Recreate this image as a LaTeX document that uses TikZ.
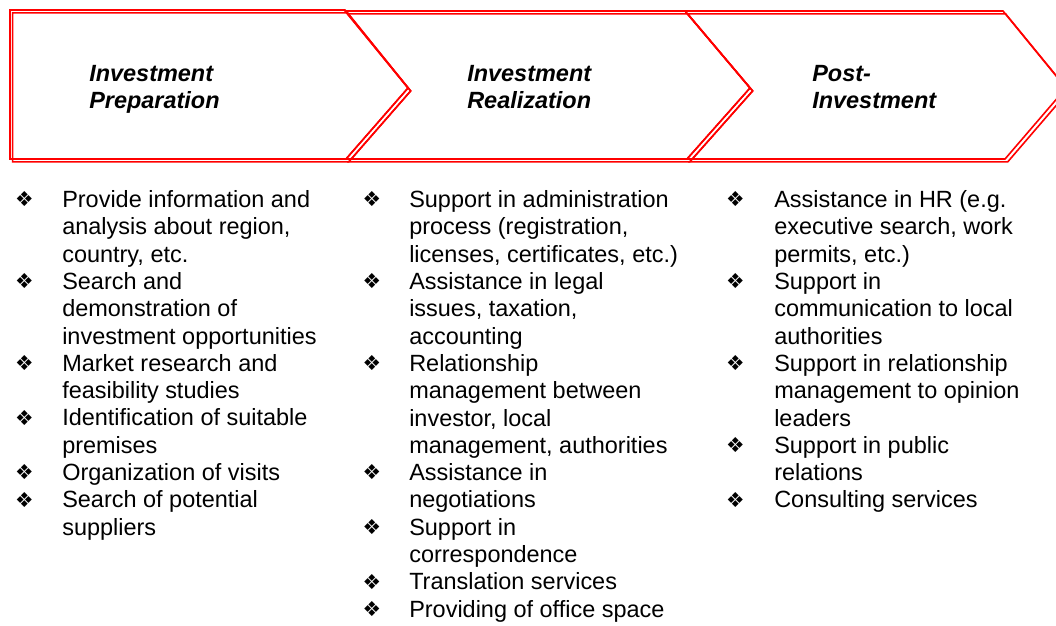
\documentclass[tikz,border=0pt]{standalone}
\usepackage{fontspec}
\setmainfont{Liberation Sans}
\newfontfamily\dejavu{DejaVu Sans}
\begin{document}
\begin{tikzpicture}[x=0.75pt,y=-0.75pt,
  chev/.style={draw=red, line width=1.2pt, line join=miter},
  chevshadow/.style={chev, xshift=2pt, yshift=-2.2pt},
  itemtext/.style={anchor=north west, inner sep=0pt, yshift=14pt, align=left,
    font=\fontsize{17.6}{20.5}\selectfont},
  headtext/.style={itemtext, font=\fontsize{17.6}{20.5}\selectfont\bfseries\itshape},
  bul/.style={inner sep=0pt, anchor=center, yshift=6pt, font=\dejavu\fontsize{15.5}{15.5}\selectfont}
]
\useasboundingbox (0,0) rectangle (1056,625);
\clip (0,0) rectangle (1056,625);
% chevrons: shadow copies first
\draw[chevshadow] (10,10) -- (345,10) -- (408,88) -- (346,159) -- (10,159) -- cycle;
\draw[chevshadow] (345,11) -- (685,11) -- (750,88) -- (687,159) -- (346,159) -- (408,88) -- cycle;
\draw[chevshadow] (685,11) -- (1003,11) -- (1066,88) -- (1005,159) -- (687,159) -- (750,88) -- cycle;
\draw[chev] (10,10) -- (345,10) -- (408,88) -- (346,159) -- (10,159) -- cycle;
\draw[chev] (345,11) -- (685,11) -- (750,88) -- (687,159) -- (346,159) -- (408,88) -- cycle;
\draw[chev] (685,11) -- (1003,11) -- (1066,88) -- (1005,159) -- (687,159) -- (750,88) -- cycle;
% headings
\node[headtext] (h1) at (89,81) {\rule{0pt}{14pt}Investment\\Preparation};
\node[headtext] (h2) at (467,81) {\rule{0pt}{14pt}Investment\\Realization};
\node[headtext] (h3) at (812,81) {\rule{0pt}{14pt}Post-\\Investment};
% column 1
\foreach \n/\k/\t in {
  a1/0/{Provide information and\\analysis about region,\\country, etc.},
  a2/3/{Search and\\demonstration of\\investment opportunities},
  a3/6/{Market research and\\feasibility studies},
  a4/8/{Identification of suitable\\premises},
  a5/10/{Organization of visits},
  a6/11/{Search of potential\\suppliers}}{
  \node[itemtext] (\n) at (62,207.3+27.3*\k) {\rule{0pt}{14pt}\t};
  \node[bul] (\n b) at (24.5,207.3+27.3*\k) {❖};
}
% column 2
\foreach \n/\k/\t in {
  b1/0/{Support in administration\\process (registration,\\licenses, certificates, etc.)},
  b2/3/{Assistance in legal\\issues, taxation,\\accounting},
  b3/6/{Relationship\\management between\\investor, local\\management, authorities},
  b4/10/{Assistance in\\negotiations},
  b5/12/{Support in\\correspondence},
  b6/14/{Translation services},
  b7/15/{Providing of office space}}{
  \node[itemtext] (\n) at (409,207.3+27.3*\k) {\rule{0pt}{14pt}\t};
  \node[bul] (\n b) at (372,207.3+27.3*\k) {❖};
}
% column 3
\foreach \n/\k/\t in {
  c1/0/{Assistance in HR (e.g.\\executive search, work\\permits, etc.)},
  c2/3/{Support in\\communication to local\\authorities},
  c3/6/{Support in relationship\\management to opinion\\leaders},
  c4/9/{Support in public\\relations},
  c5/11/{Consulting services}}{
  \node[itemtext] (\n) at (774,207.3+27.3*\k) {\rule{0pt}{14pt}\t};
  \node[bul] (\n b) at (735.5,207.3+27.3*\k) {❖};
}
\end{tikzpicture}
\end{document}
